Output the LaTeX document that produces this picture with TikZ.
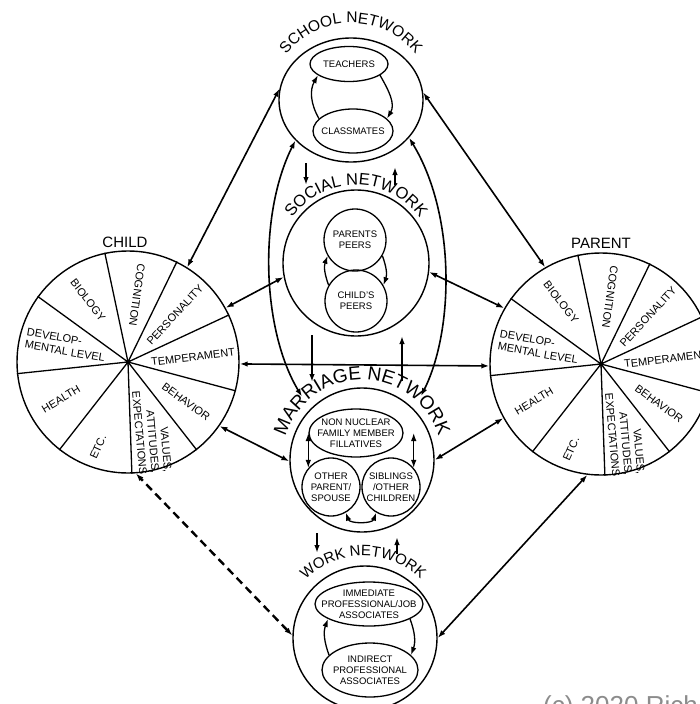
\documentclass[tikz,border=0pt]{standalone}
\usepackage{fontspec}
\setmainfont{Liberation Sans}
\usetikzlibrary{shapes.geometric,arrows.meta,decorations.text}

\tikzset{
  x=1pt, y=1pt,
  >={Latex[length=8pt,width=5.5pt]},
  net/.style={draw, line width=1.4pt, inner sep=0pt},
  inner/.style={draw, line width=1.3pt, inner sep=0pt},
  ell/.style={inner, ellipse},
  circ/.style={inner, circle},
  lbl/.style={inner sep=0pt, align=center, font=\fontsize{9.5}{11}\selectfont},
  link/.style={line width=1.6pt, <->},
  dlink/.style={line width=2.4pt, <->, dash pattern=on 8pt off 5pt},
  one/.style={line width=1.8pt, ->},
  loopar/.style={line width=1.3pt, ->},
  pietext/.style={inner sep=0pt, font=\fontsize{11}{12.5}\selectfont},
  pie/.style={circle, draw, line width=1.4pt, minimum size=222pt, inner sep=0pt},
  spoke/.style={line width=1.3pt},
  title/.style={font=\fontsize{15}{15}\selectfont, inner sep=0pt},
}

\newcommand\piecontent[1]{%
  \foreach \a in {102,64,25,-15,-52,-88,-128,-174,144} \draw[spoke] (#1.center) -- (#1.\a);
  \fill (#1.center) circle[radius=2.5pt];
  \node[pietext, rotate=-52] at ([shift={(-40,62)}]#1.center) {BIOLOGY};
  \node[pietext, rotate=-98] at ([shift={(9,67)}]#1.center) {COGNITION};
  \node[pietext, rotate=47] at ([shift={(47,47)}]#1.center) {PERSONALITY};
  \node[pietext, rotate=7] at ([shift={(65,5)}]#1.center) {TEMPERAMENT};
  \node[pietext, rotate=-36] at ([shift={(58,-40)}]#1.center) {BEHAVIOR};
  \node[pietext, rotate=-85, align=right] at ([shift={(24,-70)}]#1.center) {VALUES,\\ATTITUDES,\\EXPECTATIONS};
  \node[pietext, rotate=66] at ([shift={(-30,-85)}]#1.center) {ETC.};
  \node[pietext, rotate=31] at ([shift={(-67,-37)}]#1.center) {HEALTH};
  \node[pietext, rotate=-10, align=left] at ([shift={(-62,17)}]#1.center) {DEVELOP-\\MENTAL LEVEL};
}

\newcommand\arcfontA{\fontsize{15.5}{15.5}\selectfont}
\newcommand\arcfontB{\fontsize{16.5}{16.5}\selectfont}
\newcommand\arcfontC{\fontsize{19}{19}\selectfont}
\newcommand\arcfontD{\fontsize{15}{15}\selectfont}

\begin{document}
\begin{tikzpicture}
\useasboundingbox (0,-704) rectangle (700,0);
\fill[white] (0,-704) rectangle (700,0);
\clip (0,-704) rectangle (700,0);

% ---------- pies ----------
\node[pie] (child) at (128,-362) {};
\piecontent{child}
\node[title] at ([shift={(-3,120)}]child.center) {CHILD};

\node[pie] (parent) at (601,-364) {};
\piecontent{parent}
\node[title] at ([shift={(0,121)}]parent.center) {PARENT};

% ---------- school network ----------
\node[ellipse, net, minimum width=144pt, minimum height=124pt] (school) at (351,-100) {};
\node[ell, minimum width=78pt, minimum height=35pt] (teach) at (349,-64) {};
\node[lbl] at (teach) {TEACHERS};
\node[ell, minimum width=80pt, minimum height=44pt] (class) at (353,-131) {};
\node[lbl] at (class) {CLASSMATES};
\draw[loopar] (class.160) to[out=120,in=240] (teach.200);
\draw[loopar] (teach.-20) to[out=-60,in=60] (class.20);
\path[decorate, decoration={text along path, text align=center,
  text={|\arcfontA|SCHOOL NETWORK}}]
  ([shift={(160:82)}]351,-105) arc[start angle=160, end angle=20, radius=82pt];

% ---------- social network ----------
\node[circle, net, minimum size=146pt] (social) at (356,-263) {};
\node[circ, minimum size=62pt] (pp) at (355,-240) {};
\node[lbl] at (pp) {PARENTS\\PEERS};
\node[circ, minimum size=62pt] (cp) at (356,-301) {};
\node[lbl] at (cp) {CHILD'S\\PEERS};
\draw[loopar] (cp.150) to[out=110,in=250] (pp.210);
\draw[loopar] (pp.-30) to[out=-70,in=70] (cp.30);
\path[decorate, decoration={text along path, text align=center,
  text={|\arcfontB|SOCIAL NETWORK}}]
  ([shift={(165:78)}]356,-263) arc[start angle=165, end angle=15, radius=78pt];

% ---------- marriage network ----------
\node[circle, net, minimum size=144pt] (marriage) at (362,-460) {};
\node[ell, minimum width=94pt, minimum height=48pt] (nn) at (356,-433) {};
\node[lbl] at (nn) {NON NUCLEAR\\FAMILY MEMBER\\FILLATIVES};
\node[circ, minimum size=58pt] (op) at (331,-487) {};
\node[lbl] at (op) {OTHER\\PARENT/\\SPOUSE};
\node[circ, minimum size=58pt] (sib) at (391,-487) {};
\node[lbl] at (sib) {SIBLINGS\\/OTHER\\CHILDREN};
\draw[loopar, <->] (op.140 |- nn.west) -- (op.140);
\draw[loopar, <->] (sib.40 |- nn.east) -- (sib.40);
\draw[loopar, <->] (op.-60) to[out=-70,in=-110] (sib.-120);
\path[decorate, decoration={text along path, text align=center,
  text={|\arcfontC|MARRIAGE NETWORK}}]
  ([shift={(178:80)}]362,-460) arc[start angle=178, end angle=2, radius=80pt];

% ---------- work network ----------
\node[circle, net, minimum size=144pt] (work) at (365,-638) {};
\node[ell, minimum width=108pt, minimum height=44pt] (imm) at (369,-604) {};
\node[lbl] at (imm) {IMMEDIATE\\PROFESSIONAL/JOB\\ASSOCIATES};
\node[ell, minimum width=96pt, minimum height=54pt] (ind) at (370,-670) {};
\node[lbl] at (ind) {INDIRECT\\PROFESSIONAL\\ASSOCIATES};
\draw[loopar] (ind.160) to[out=110,in=250] (imm.200);
\draw[loopar] (imm.-20) to[out=-70,in=70] (ind.20);
\path[decorate, decoration={text along path, text align=center,
  text={|\arcfontD|WORK NETWORK}}]
  ([shift={(150:82)}]363,-638) arc[start angle=150, end angle=30, radius=82pt];

% ---------- short vertical arrows ----------
\coordinate (a1s) at (306,-163); \coordinate (a1e) at (306,-185);
\coordinate (a2s) at (395,-185); \coordinate (a2e) at (395,-167);
\coordinate (b1s) at (312,-335); \coordinate (b1e) at (312,-382);
\coordinate (b2s) at (402,-381); \coordinate (b2e) at (402,-336);
\coordinate (c1s) at (317,-533); \coordinate (c1e) at (317,-553);
\coordinate (c2s) at (397,-554); \coordinate (c2e) at (397,-537);
\draw[one] (a1s) -- (a1e);
\draw[one] (a2s) -- (a2e);
\draw[one] (b1s) -- (b1e);
\draw[one] (b2s) -- (b2e);
\draw[one] (c1s) -- (c1e);
\draw[one] (c2s) -- (c2e);

% ---------- big arcs school <-> marriage ----------
\draw[link, shorten >=15pt] (school.216) .. controls (258,-215) and (262,-330) .. (marriage.136);
\draw[link, shorten >=15pt] (school.-33) .. controls (456,-215) and (454,-330) .. (marriage.44);

% ---------- links to child / parent ----------
\draw[link] (school.171) -- (child.58);
\draw[link] (school.6) -- (parent.120);
\draw[link] (social.191) -- (child.29);
\draw[link] (social.-7) -- (parent.150);
\draw[link] (child.-1) -- (parent.181);
\draw[link] (marriage.181) -- (child.-35);
\draw[link] (marriage.0) -- (parent.209);
\draw[dlink] (work.178) -- (child.-86);
\draw[link] (work.0) -- (parent.-97);

% ---------- credit ----------
\node[anchor=base west, inner sep=0pt, text=black!45, font=\fontsize{26}{26}\selectfont] (credit) at (543,-714) {(c) 2020 Rich};
\end{tikzpicture}
\end{document}
